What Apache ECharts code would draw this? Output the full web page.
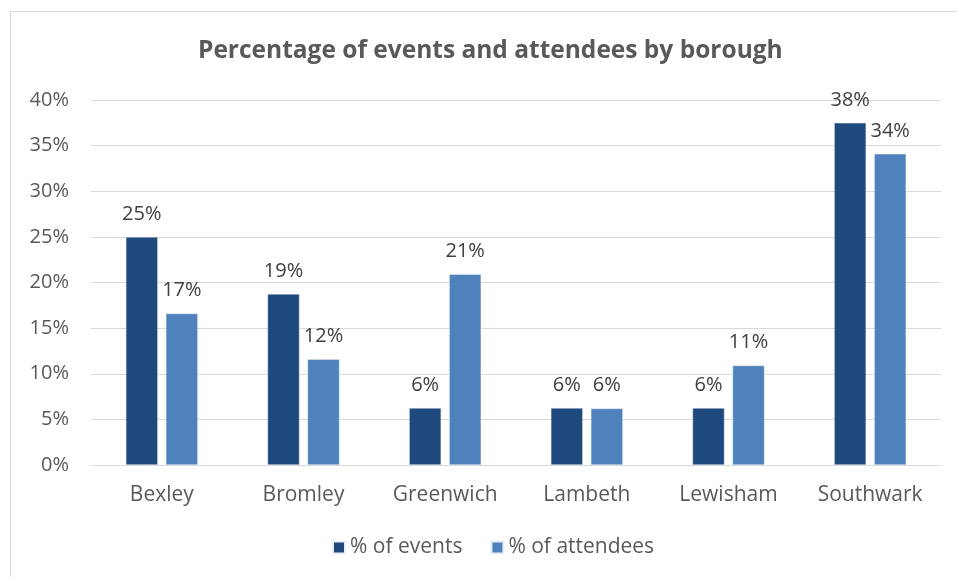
<!DOCTYPE html>
<html>
<head>
<meta charset="utf-8">
<script src="https://cdn.jsdelivr.net/npm/echarts@6/dist/echarts.min.js"></script>
<style>
html,body{margin:0;padding:0;background:#fff;}
#frame{position:absolute;left:10px;top:11px;width:960px;height:580px;border:1px solid #d9d9d9;box-sizing:border-box;}
#chart{position:absolute;left:0;top:0;width:957px;height:577px;}
</style>
</head>
<body>
<div id="frame"></div>
<div id="chart"></div>
<script>
const categories = ['Bexley', 'Bromley', 'Greenwich', 'Lambeth', 'Lewisham', 'Southwark'];
const eventsPct = [25, 18.75, 6.25, 6.25, 6.25, 37.5];
const attendeesPct = [16.6, 11.6, 20.9, 6.2, 10.9, 34.1];
const seriesNames = ['% of events', '% of attendees'];

const FONT = '"Open Sans", sans-serif';
const chart = echarts.init(document.getElementById('chart'));
const labelCfg = {
  show: true, position: 'top', distance: 13,
  color: '#404040', fontSize: 20, fontFamily: FONT,
  formatter: p => Math.round(p.value) + '%'
};
chart.setOption({
  animation: false,
  title: {
    text: 'Percentage of events and attendees by borough',
    left: 193, top: 34,
    textStyle: { color: '#595959', fontSize: 24.5, fontWeight: 'bold', fontFamily: FONT }
  },
  legend: {
    bottom: 14, left: 327,
    itemWidth: 12, itemHeight: 12, itemGap: 28,
    icon: 'rect',
    textStyle: { color: '#595959', fontSize: 21, fontFamily: FONT }
  },
  grid: { left: 91, right: 16, top: 100, bottom: 112, containLabel: false },
  xAxis: {
    type: 'category', data: categories,
    axisLine: { lineStyle: { color: '#d9d9d9', width: 1 } },
    axisTick: { show: false },
    axisLabel: { color: '#595959', fontSize: 21, fontFamily: FONT, margin: 20 }
  },
  yAxis: {
    type: 'value', min: 0, max: 40, interval: 5,
    axisLine: { show: false }, axisTick: { show: false },
    splitLine: { lineStyle: { color: '#d9d9d9', width: 1 } },
    axisLabel: { color: '#595959', fontSize: 20, fontFamily: FONT, margin: 22, formatter: v => v + '%' }
  },
  series: [
    { name: seriesNames[0], type: 'bar', data: eventsPct, barWidth: '22.6%', barGap: '25%',
      itemStyle: { color: '#1F497D', borderColor: '#e8eef6', borderWidth: 0.5 }, label: labelCfg },
    { name: seriesNames[1], type: 'bar', data: attendeesPct, barWidth: '22.6%', barGap: '25%',
      itemStyle: { color: '#4F81BD', borderColor: '#e8eef6', borderWidth: 0.5 }, label: labelCfg }
  ]
});
</script>
</body>
</html>
